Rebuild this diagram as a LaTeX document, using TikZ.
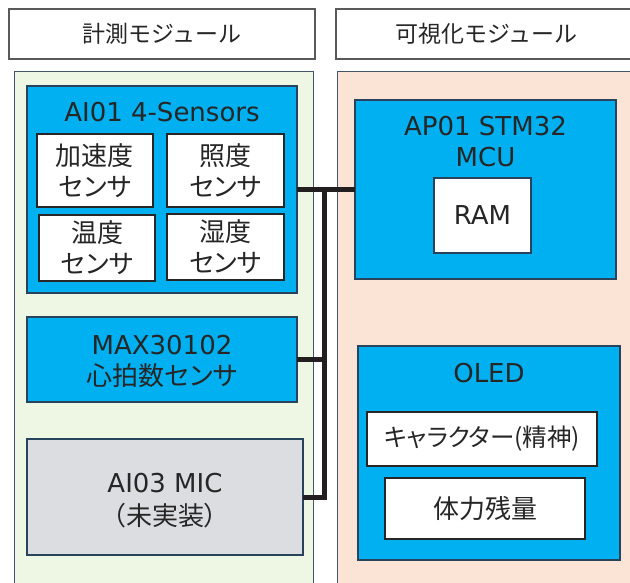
\documentclass[tikz,border=0pt]{standalone}
\usepackage{fontspec}
\setmainfont{DejaVu Sans}
\newfontfamily\jp{Noto Sans CJK JP}
\newfontfamily\jpp[RawFeature=+palt]{Noto Sans CJK JP}
\definecolor{txt}{HTML}{262626}
\definecolor{blu}{HTML}{00B0F0}
\definecolor{bluedge}{HTML}{27445C}
\definecolor{grn}{HTML}{EEF6E4}
\definecolor{pch}{HTML}{FBE4D6}
\definecolor{paneledge}{HTML}{44546A}
\definecolor{hdredge}{HTML}{595959}
\definecolor{wedge}{HTML}{262626}
\definecolor{gry}{HTML}{DCDDE0}
\definecolor{busc}{HTML}{231F20}
\tikzset{
  box/.style={rectangle,inner sep=0pt,outer sep=0pt,align=center,text=txt},
  hdr/.style={box,draw=hdredge,line width=1.5pt,fill=white,font=\fontsize{23}{28}\selectfont\jp},
  panel/.style={box,draw=paneledge,line width=1pt},
  bluebox/.style={box,draw=bluedge,line width=2pt,fill=blu},
  whitebox/.style={box,draw=wedge,line width=2.5pt,fill=white,font=\fontsize{26}{31}\selectfont\jpp},
  graybox/.style={box,draw=bluedge,line width=2pt,fill=gry},
  lbl/.style={inner sep=0pt,outer sep=0pt,align=center,text=txt,font=\fontsize{26}{31}\selectfont},
  jlbl/.style={lbl,font=\fontsize{26}{31}\selectfont\jpp},
  bus/.style={draw=busc,line width=5pt,line join=miter}
}
\begin{document}
\begin{tikzpicture}[x=1pt,y=-1pt]
\useasboundingbox (0,0) rectangle (630,582);
\clip (0,0) rectangle (630,582);
% headers
\node[hdr,minimum width=306pt,minimum height=50pt] (hdrL) at (162,34) {計測モジュール};
\node[hdr,minimum width=324pt,minimum height=50pt,text width=290pt,align=left] (hdrR) at (498,34) {\hspace*{42pt}可視化モジュール};
% panels
\node[panel,fill=grn,minimum width=299pt,minimum height=529pt] (panL) at (163.5,335.5) {};
\node[panel,fill=pch,minimum width=323pt,minimum height=529pt] (panR) at (498.5,335.5) {};
% AI01
\node[bluebox,minimum width=270pt,minimum height=207pt] (ai01) at (162,189.5) {};
\node[lbl] (ai01t) at (162,112) {AI01 4-Sensors};
\node[whitebox,minimum width=116pt,minimum height=73pt] (acc) at (95,170.5) {加速度\\センサ};
\node[whitebox,minimum width=117pt,minimum height=73pt] (lux) at (225.5,170.5) {照度\\センサ};
\node[whitebox,minimum width=116pt,minimum height=66pt] (tmp) at (97,248) {温度\\センサ};
\node[whitebox,minimum width=117pt,minimum height=66pt] (hum) at (225.5,247) {湿度\\センサ};
% MAX30102
\node[bluebox,minimum width=270pt,minimum height=85pt] (max) at (162,359.5) {};
\node[lbl] (maxt) at (162,345) {MAX30102};
\node[jlbl] (maxj) at (162,376) {心拍数センサ};
% MIC
\node[graybox,minimum width=276pt,minimum height=116pt] (mic) at (165,497) {};
\node[lbl] (mict) at (165,483) {AI03 MIC};
\node[jlbl] (micj) at (165,516) {（未実装）};
% AP01
\node[bluebox,minimum width=261pt,minimum height=179pt] (ap01) at (485.5,189.5) {};
\node[lbl] (ap01t) at (485.5,126) {AP01 STM32};
\node[lbl] (mcut) at (485.5,157.5) {MCU};
\node[box,draw=bluedge,line width=2.5pt,fill=white,minimum width=97pt,minimum height=75pt,font=\fontsize{26}{31}\selectfont] (ram) at (482.5,215.5) {RAM};
% OLED
\node[bluebox,minimum width=262pt,minimum height=214pt] (oled) at (489,453) {};
\node[lbl] (oledt) at (489,373) {OLED};
\node[whitebox,minimum width=230pt,minimum height=54pt,font=\fontsize{24.5}{30}\selectfont\jpp] (chara) at (482,439) {キャラクター(精神)};
\node[whitebox,minimum width=200pt,minimum height=61pt] (hp) at (485,508.5) {体力残量};
% bus
\coordinate (busx) at (324,0);
\draw[bus] (ai01.east) -- (ap01.west);
\draw[bus] (max.east) -- (max.east -| busx);
\draw[bus] (mic.east) -| (busx |- ai01.east);
\end{tikzpicture}
\end{document}
